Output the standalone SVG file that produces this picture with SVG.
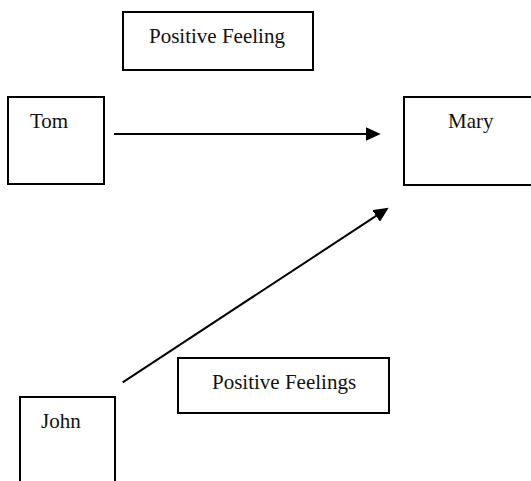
<svg xmlns="http://www.w3.org/2000/svg" width="531" height="481" viewBox="0 0 531 481">
  <style>
    .box { fill: #fff; stroke: #000; stroke-width: 2; }
    .label { font-family: "Liberation Serif", "Times New Roman", serif; font-size: 21px; fill: #111; }
    .edge { stroke: #000; stroke-width: 2; fill: none; marker-end: url(#head); }
  </style>
  <defs>
    <marker id="head" viewBox="0 0 15 14" refX="5" refY="7" markerWidth="15" markerHeight="14" markerUnits="userSpaceOnUse" orient="auto">
      <path d="M0,0 L15,7 L0,14 z" fill="#000"/>
    </marker>
  </defs>
  <rect width="531" height="481" fill="#fff"/>

  <g id="positive-feeling">
    <rect class="box" x="123" y="12" width="190" height="58"/>
    <text class="label" x="149" y="43">Positive Feeling</text>
  </g>

  <g id="tom">
    <rect class="box" x="8" y="97" width="96" height="87"/>
    <text class="label" x="30" y="128">Tom</text>
  </g>

  <g id="mary">
    <rect class="box" x="404" y="97" width="140" height="88"/>
    <text class="label" x="448" y="128">Mary</text>
  </g>

  <g id="john">
    <rect class="box" x="20" y="397" width="95" height="100"/>
    <text class="label" x="41" y="428">John</text>
  </g>

  <g id="positive-feelings">
    <rect class="box" x="178" y="358" width="211" height="55"/>
    <text class="label" x="212" y="389">Positive Feelings</text>
  </g>

  <g id="connectors">
    <line class="edge" x1="114" y1="134" x2="370.7" y2="134"/>
    <line class="edge" x1="122.7" y1="382.3" x2="380.3" y2="213.2"/>
  </g>
</svg>
